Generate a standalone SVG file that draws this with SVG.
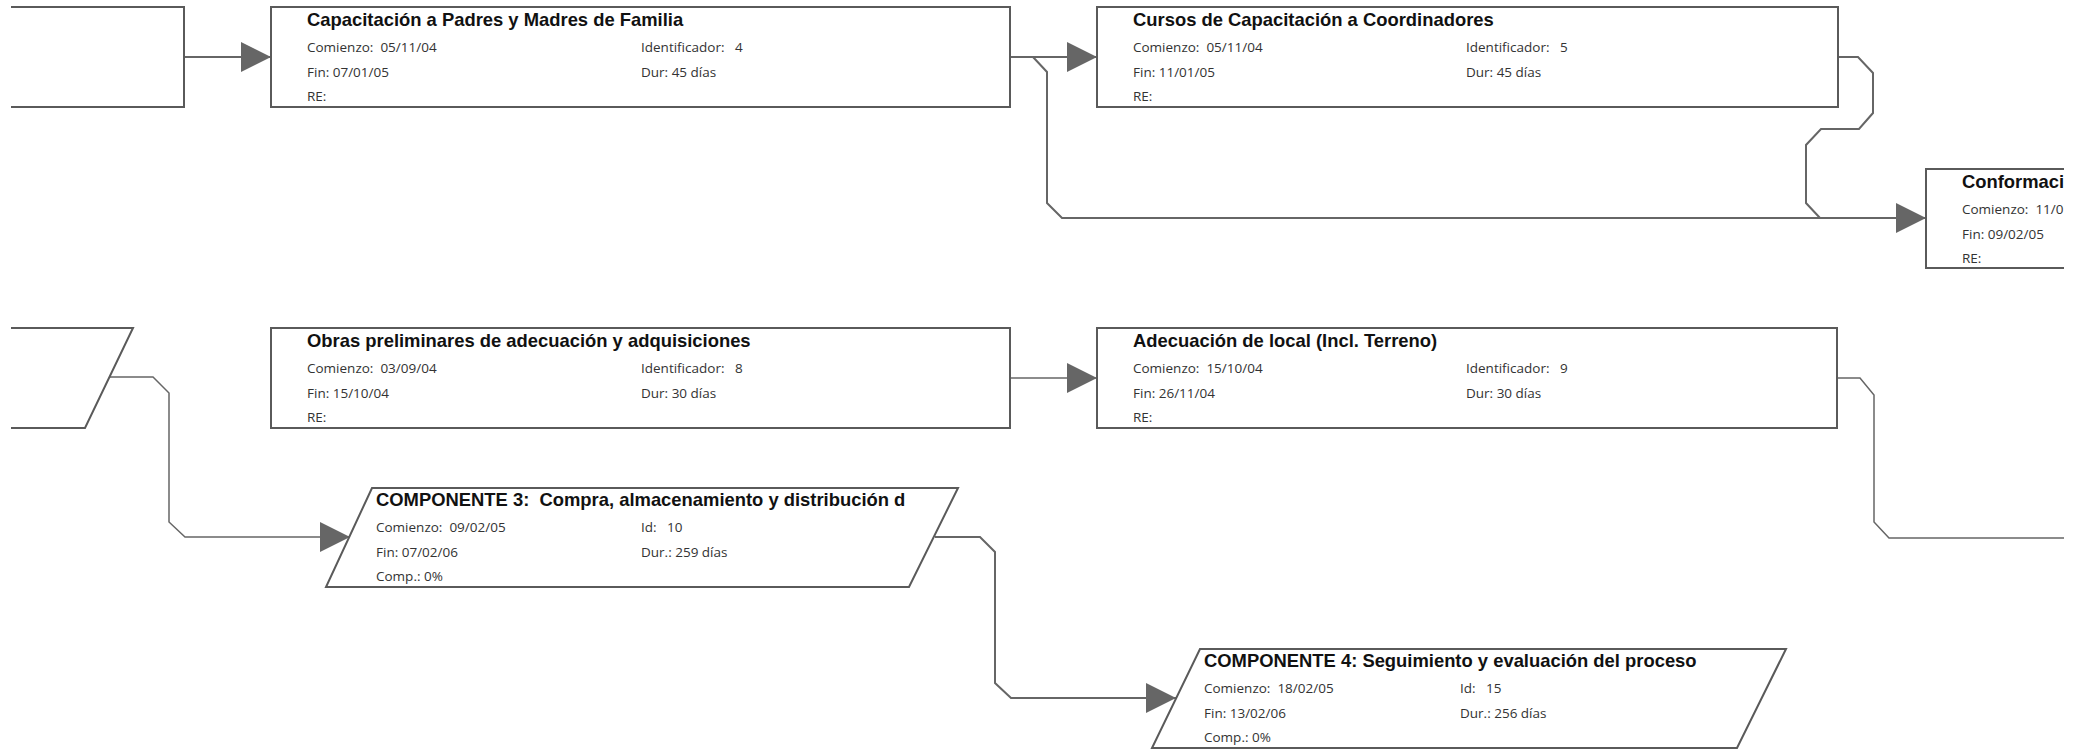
<svg xmlns="http://www.w3.org/2000/svg" width="2091" height="751" viewBox="0 0 2091 751">
  <style>
    .box{fill:#fff;stroke:#5a5a5a;stroke-width:2}
    .edge{fill:none;stroke:#5a5a5a;stroke-width:2}
    .title{font-family:"Liberation Sans",Arial,sans-serif;font-weight:bold;font-size:18.4px;fill:#111;white-space:pre}
    .txt{font-family:"Open Sans","DejaVu Sans",sans-serif;font-size:13.5px;fill:#333;white-space:pre}
    .conn{fill:none;stroke:#666;stroke-width:2;stroke-linejoin:miter}
    .thin{stroke-width:1.5}
  </style>
  <defs>
    <marker id="arrow" markerUnits="userSpaceOnUse" markerWidth="30" markerHeight="30" refX="30" refY="15" orient="auto">
      <path d="M0,0 L30,15 L0,30 Z" fill="#666"/>
    </marker>
    <clipPath id="page"><rect x="0" y="0" width="2064" height="751"/></clipPath>
    <clipPath id="c3title"><rect x="370" y="488" width="537" height="30"/></clipPath>
  </defs>
  <rect width="2091" height="751" fill="#fff"/>

  <!-- connectors -->
  <g id="connectors">
    <path class="conn" d="M184,57 H271" marker-end="url(#arrow)"/>
    <path class="conn" d="M1010,57 H1097" marker-end="url(#arrow)"/>
    <path class="conn" d="M1033,57 L1047,72 V203 L1062,218 H1926" marker-end="url(#arrow)"/>
    <path class="conn" d="M1838,57 H1858 L1873,73 V113 L1859,129 H1821 L1806,145 V203 L1820,218"/>
    <path class="conn thin" d="M1010,378 H1097" marker-end="url(#arrow)"/>
    <path class="conn thin" d="M109,377 H153 L169,393 V522 L185,537 H350" marker-end="url(#arrow)"/>
    <path class="conn thin" d="M1837,378 H1860 L1874,395 V522 L1889,538 H2064"/>
    <path class="conn" d="M935,537 H980 L995,552 V683 L1011,698 H1176" marker-end="url(#arrow)"/>
  </g>

  <!-- partial predecessor nodes at the left border -->
  <g id="node-prev-a">
    <path class="edge" d="M11,7 H184 V107 H11"/>
  </g>
  <g id="node-prev-b">
    <path class="edge" d="M11,328 H133 L85,428 H11"/>
  </g>

  <g id="node-4">
    <rect class="box" x="271" y="7" width="739" height="100"/>
    <text class="title" x="307" y="26">Capacitación a Padres y Madres de Familia</text>
    <text class="txt" x="307" y="52">Comienzo:  05/11/04</text>
    <text class="txt" x="641" y="52">Identificador:   4</text>
    <text class="txt" x="307" y="77">Fin: 07/01/05</text>
    <text class="txt" x="641" y="77">Dur: 45 días</text>
    <text class="txt" x="307" y="101">RE:</text>
  </g>

  <g id="node-5">
    <rect class="box" x="1097" y="7" width="741" height="100"/>
    <text class="title" x="1133" y="26">Cursos de Capacitación a Coordinadores</text>
    <text class="txt" x="1133" y="52">Comienzo:  05/11/04</text>
    <text class="txt" x="1466" y="52">Identificador:   5</text>
    <text class="txt" x="1133" y="77">Fin: 11/01/05</text>
    <text class="txt" x="1466" y="77">Dur: 45 días</text>
    <text class="txt" x="1133" y="101">RE:</text>
  </g>

  <g id="node-conformacion" clip-path="url(#page)">
    <path class="box" d="M2070,169 H1926 V268 H2070"/>
    <text class="title" x="1962" y="188">Conformaci</text>
    <text class="txt" x="1962" y="214">Comienzo:  11/0</text>
    <text class="txt" x="1962" y="239">Fin: 09/02/05</text>
    <text class="txt" x="1962" y="263">RE:</text>
  </g>

  <g id="node-8">
    <rect class="box" x="271" y="328" width="739" height="100"/>
    <text class="title" x="307" y="347">Obras preliminares de adecuación y adquisiciones</text>
    <text class="txt" x="307" y="373">Comienzo:  03/09/04</text>
    <text class="txt" x="641" y="373">Identificador:   8</text>
    <text class="txt" x="307" y="398">Fin: 15/10/04</text>
    <text class="txt" x="641" y="398">Dur: 30 días</text>
    <text class="txt" x="307" y="422">RE:</text>
  </g>

  <g id="node-9">
    <rect class="box" x="1097" y="328" width="740" height="100"/>
    <text class="title" x="1133" y="347">Adecuación de local (Incl. Terreno)</text>
    <text class="txt" x="1133" y="373">Comienzo:  15/10/04</text>
    <text class="txt" x="1466" y="373">Identificador:   9</text>
    <text class="txt" x="1133" y="398">Fin: 26/11/04</text>
    <text class="txt" x="1466" y="398">Dur: 30 días</text>
    <text class="txt" x="1133" y="422">RE:</text>
  </g>

  <g id="node-10">
    <path class="box" d="M372,488 H958 L909,587 H326 Z"/>
    <text class="title" x="376" y="506" clip-path="url(#c3title)">COMPONENTE 3:  Compra, almacenamiento y distribución d</text>
    <text class="txt" x="376" y="532">Comienzo:  09/02/05</text>
    <text class="txt" x="641" y="532">Id:   10</text>
    <text class="txt" x="376" y="557">Fin: 07/02/06</text>
    <text class="txt" x="641" y="557">Dur.: 259 días</text>
    <text class="txt" x="376" y="581">Comp.: 0%</text>
  </g>

  <g id="node-15">
    <path class="box" d="M1200,649 H1786 L1737,748 H1152 Z"/>
    <text class="title" x="1204" y="667">COMPONENTE 4: Seguimiento y evaluación del proceso</text>
    <text class="txt" x="1204" y="693">Comienzo:  18/02/05</text>
    <text class="txt" x="1460" y="693">Id:   15</text>
    <text class="txt" x="1204" y="718">Fin: 13/02/06</text>
    <text class="txt" x="1460" y="718">Dur.: 256 días</text>
    <text class="txt" x="1204" y="742">Comp.: 0%</text>
  </g>
</svg>
